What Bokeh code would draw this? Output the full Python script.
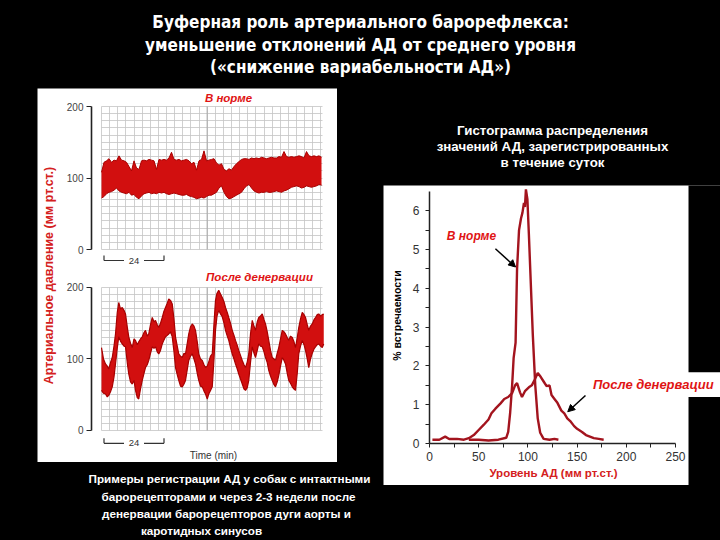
import math
from bokeh.plotting import figure
from bokeh.layouts import row, column
from bokeh.models import (Range1d, LinearAxis, FixedTicker, SingleIntervalTicker, Grid,
                          BoxAnnotation, Arrow, NormalHead)
from bokeh.core.properties import value
from bokeh.embed import file_html
from bokeh.resources import INLINE

SANS = "Liberation Sans, Arial, Helvetica, sans-serif"
NARROW = "Liberation Sans Narrow, Arial Narrow, DejaVu Sans Condensed, sans-serif"
BLACK_BG = {"background-color": "black"}

# ------------------------------------------------------------------ data
TITLE_LINES = ["Буферная роль артериального барорефлекса:",
               "уменьшение отклонений АД от среднего уровня",
               "(«снижение вариабельности АД»)"]
CAPTION_LINES = ["Примеры регистрации АД у собак с интактными",
                 "барорецепторами и через 2-3 недели после",
                 "денервации барорецепторов дуги аорты и",
                 "каротидных синусов"]
HIST_TITLE_LINES = ["Гистограмма распределения",
                    "значений АД, зарегистрированных",
                    "в течение суток"]
Y_LABEL_LEFT = "Артериальное давление (мм рт.ст.)"
LABEL_NORM = "В норме"
LABEL_DEN = "После денервации"
X_LABEL_HIST = "Уровень АД (мм рт.ст.)"
Y_LABEL_HIST = "% встречаемости"
TIME_LABEL = "Time (min)"
SCALE_BAR_MIN = 24

# normal recording: time (min), lower and upper envelope (mm Hg)
TOP_T = list(range(0, 89))
TOP_LO = [72, 74, 78, 80, 81, 83, 86, 82, 80, 79, 78, 80, 76, 77, 73, 71, 75, 78, 79, 80,
          78, 79, 78, 80, 79, 80, 78, 77, 78, 79, 78, 77, 76, 76, 77, 75, 74, 73, 71, 72,
          73, 72, 74, 76, 76, 78, 80, 86, 89, 80, 74, 71, 72, 74, 76, 78, 80, 85, 89, 91,
          86, 82, 80, 79, 80, 80, 81, 80, 80, 81, 82, 81, 80, 82, 83, 85, 87, 88, 89, 88,
          86, 87, 89, 88, 87, 88, 89, 91, 90]
TOP_HI = [108, 122, 124, 127, 122, 125, 124, 131, 125, 124, 122, 116, 110, 124, 114, 112, 124, 125, 124, 126,
          125, 124, 112, 126, 125, 126, 125, 128, 136, 126, 125, 126, 124, 125, 126, 124, 120, 122, 111, 124,
          126, 138, 124, 125, 126, 127, 121, 118, 120, 112, 110, 113, 111, 116, 120, 123, 126, 127, 127, 126,
          128, 127, 128, 127, 129, 128, 127, 128, 129, 128, 128, 130, 129, 137, 130, 129, 130, 129, 130, 131,
          130, 128, 137, 131, 130, 131, 130, 131, 129]

# after denervation: time (min), lower and upper envelope (mm Hg)
BOT_T = [0.0, 0.8, 1.6, 2.3, 2.9, 3.6, 4.3, 5.0, 5.6, 6.3, 6.9, 7.6, 8.3, 9.0, 9.6, 10.3, 10.9, 11.6,
         12.3, 13.0, 13.6, 14.3, 14.9, 15.6, 16.3, 17.0, 17.6, 18.3, 18.9, 19.6, 20.3, 21.0, 21.6,
         22.3, 22.9, 23.6, 24.3, 24.9, 25.6, 26.3, 26.9, 27.6, 28.3, 29.0, 29.6, 30.3, 30.9, 31.6,
         32.3, 33.0, 33.6, 34.3, 34.9, 35.6, 36.3, 37.0, 37.6, 38.3, 38.9, 39.6, 40.3, 41.0, 41.6,
         42.3, 42.9, 43.6, 44.3, 45.0, 45.6, 46.2, 46.9, 47.6, 48.3, 49.0, 49.6, 50.3, 50.9, 51.6,
         52.3, 53.0, 53.6, 54.3, 54.9, 55.6, 56.3, 57.0, 57.6, 58.3, 58.9, 59.6, 60.3, 61.0, 61.6,
         62.3, 62.9, 63.6, 64.3, 65.0, 65.6, 66.3, 66.9, 67.6, 68.3, 69.0, 69.6, 70.3, 70.9, 71.6,
         72.3, 73.0, 73.6, 74.3, 74.9, 75.6, 76.3, 77.0, 77.6, 78.3, 78.9, 79.6, 80.3, 81.0, 81.6,
         82.3, 82.9, 83.6, 84.3, 85.0, 85.6, 86.3, 86.9, 87.6, 88.3, 88.9]
BOT_LO = [56, 52, 51, 47, 49, 54, 61, 75, 93, 115, 131, 125, 121, 118, 117, 95, 79, 68,
          65, 70, 56, 46, 44, 58, 70, 80, 88, 92, 98, 108, 117, 115, 117,
          110, 107, 112, 121, 126, 131, 133, 135, 138, 131, 110, 88, 78, 70, 62,
          61, 65, 70, 85, 98, 104, 107, 100, 93, 80, 70, 62, 61, 55, 51,
          44, 51, 56, 61, 100, 140, 160, 168, 163, 159, 150, 140, 132, 126, 116,
          107, 100, 93, 86, 79, 72, 65, 58, 56, 60, 70, 95, 117, 108, 102,
          112, 121, 118, 117, 110, 102, 95, 84, 76, 70, 64, 61, 68, 77, 90,
          102, 98, 93, 80, 70, 66, 61, 58, 56, 80, 107, 118, 126, 120, 112,
          100, 88, 100, 108, 114, 117, 120, 121, 118, 116, 121]
BOT_HI = [116, 100, 93, 90, 86, 95, 102, 118, 135, 165, 179, 170, 172, 168, 163, 145, 131, 122,
          116, 128, 126, 120, 124, 128, 131, 137, 140, 132, 135, 148, 158, 152, 154,
          148, 144, 150, 158, 166, 172, 178, 184, 182, 177, 155, 131, 118, 107, 104,
          102, 108, 107, 122, 135, 145, 149, 146, 140, 124, 107, 100, 98, 92, 88,
          90, 96, 104, 107, 150, 182, 192, 196, 191, 186, 180, 172, 165, 158, 150,
          140, 133, 126, 119, 112, 105, 98, 92, 88, 96, 107, 135, 154, 146, 140,
          152, 158, 160, 163, 155, 149, 138, 126, 112, 102, 100, 98, 108, 116, 128,
          140, 138, 135, 130, 126, 132, 130, 124, 116, 130, 144, 156, 165, 162, 158,
          148, 140, 146, 149, 155, 158, 162, 163, 160, 162, 163]

# histogram of 24-h values (% of occurrence vs level, mm Hg)
NORM_X = [40, 50, 60, 70, 78, 80, 82, 84, 85.5, 87.5, 89, 91, 93, 94.5, 96, 97, 98, 99.5,
          101, 103, 105, 107.5, 110, 112.5, 116, 122, 127, 131]
NORM_Y = [0.1, 0.1, 0.08, 0.1, 0.15, 0.3, 0.8, 1.5, 2.2, 2.6, 4.5, 5.5, 5.8, 5.95, 6.2, 6.1, 6.55, 6.3,
          5.4, 4.1, 2.8, 1.5, 0.65, 0.28, 0.12, 0.1, 0.12, 0.1]
DEN_X = [3, 10, 16, 20, 28, 35, 40, 45, 50, 55, 60, 63, 67, 72, 76, 80, 84, 87, 89, 92, 94, 97,
         101, 104, 107, 110, 113, 116, 119, 122, 124, 127, 130, 134, 137, 140, 143, 147, 150,
         155, 159, 163, 167, 172, 177]
DEN_Y = [0.1, 0.1, 0.18, 0.12, 0.12, 0.1, 0.14, 0.22, 0.35, 0.48, 0.62, 0.78, 0.9, 1.03, 1.15, 1.2,
         1.3, 1.5, 1.56, 1.32, 1.2, 1.35, 1.45, 1.5, 1.65, 1.82, 1.72, 1.6, 1.48, 1.5, 1.25, 1.15,
         1.05, 0.85, 0.78, 0.65, 0.58, 0.45, 0.38, 0.3, 0.22, 0.18, 0.14, 0.12, 0.1]

X_TICKS_HIST = [0, 50, 100, 150, 200, 250]
Y_TICKS_HIST = [0, 1, 2, 3, 4, 5, 6]
Y_TICKS_TRACE = [0, 100, 200]

TRACE_RED = "#d20f0f"
TRACE_DARK = "#a80000"
LABEL_RED = "#e01414"
HIST_RED = "#a3141e"


def base(w, h, bg="black", xr=None, yr=None):
    p = figure(width=w, height=h, toolbar_location=None, output_backend="svg",
               x_axis_type=None, y_axis_type=None,
               x_range=xr if xr is not None else Range1d(0, w),
               y_range=yr if yr is not None else Range1d(h, 0),
               background_fill_color=bg, border_fill_color=bg, outline_line_color=None,
               min_border=0)
    p.min_border_left = p.min_border_right = p.min_border_top = p.min_border_bottom = 0
    return p


def txt(p, x, y, s, size, color, font=SANS, style="bold", align="center", angle=0.0, **kw):
    p.text(x=[x], y=[y], text=[s], text_font=value(font), text_font_size=size,
           text_font_style=style, text_color=color, text_align=align,
           text_baseline="middle", angle=angle, **kw)


# ------------------------------------------------------------------ title
title = base(720, 88)
for s, yy in zip(TITLE_LINES, [21, 44, 66]):
    txt(title, 360, yy, s, "17px", "white", font=NARROW)

# ------------------------------------------------------------------ left panel (two recordings)
lp = base(300, 374, bg="white", xr=Range1d(-25.6, 94.4), yr=Range1d(-297.9, 225.2))
lp.extra_y_ranges = {"bot": Range1d(-44.8, 478.3)}

for rn in ("default", "bot"):
    g1 = Grid(dimension=0, y_range_name=rn, ticker=SingleIntervalTicker(interval=3.25),
              bounds=(0, 88.5), cross_bounds=(0, 200),
              grid_line_color="#c4c4c4", grid_line_width=0.8)
    g2 = Grid(dimension=1, y_range_name=rn, ticker=SingleIntervalTicker(interval=10),
              bounds=(0, 200), cross_bounds=(0, 88.5),
              grid_line_color="#c4c4c4", grid_line_width=0.8)
    lp.add_layout(g1)
    lp.add_layout(g2)
    lp.segment(x0=[13 * 3.25], y0=[0], x1=[13 * 3.25], y1=[200], line_color="#a8a8a8",
               line_width=1, y_range_name=rn)
    ax = LinearAxis(y_range_name=rn, fixed_location=-4, bounds=(0, 200),
                    ticker=FixedTicker(ticks=Y_TICKS_TRACE),
                    axis_line_color="#222222", axis_line_width=1.6,
                    major_tick_line_color="#222222", major_tick_line_width=1.2,
                    major_tick_in=0, major_tick_out=5, minor_tick_out=0, minor_tick_in=0,
                    major_label_text_font=SANS, major_label_text_font_size="10px",
                    major_label_text_color="#444444", major_label_standoff=3)
    lp.add_layout(ax, "left")

lp.varea(x=TOP_T, y1=TOP_LO, y2=TOP_HI, fill_color=TRACE_RED)
lp.line(x=TOP_T, y=TOP_HI, line_color=TRACE_DARK, line_width=1)
lp.line(x=TOP_T, y=TOP_LO, line_color=TRACE_DARK, line_width=1)
lp.varea(x=BOT_T, y1=BOT_LO, y2=BOT_HI, fill_color=TRACE_RED, y_range_name="bot")
lp.line(x=BOT_T, y=BOT_HI, line_color=TRACE_DARK, line_width=1.2, y_range_name="bot")
lp.line(x=BOT_T, y=BOT_LO, line_color=TRACE_DARK, line_width=1.2, y_range_name="bot")

# 24-min scale bars
for rn, by in (("default", -15.4), ("bot", -18.0)):
    x0 = 1
    x1 = x0 + SCALE_BAR_MIN
    lp.segment(x0=[x0, x1, x0, x1 - 8], y0=[by, by, by, by], x1=[x0, x1, x0 + 8, x1],
               y1=[by + 7, by + 7, by, by], line_color="#333333", line_width=1.2,
               y_range_name=rn)
    lp.text(x=[x0 + SCALE_BAR_MIN / 2], y=[by], text=[str(SCALE_BAR_MIN)],
            text_font=value(SANS), text_font_size="9.5px", text_color="#333333",
            text_align="center", text_baseline="middle", y_range_name=rn)

txt(lp, 44.8, -35, TIME_LABEL, "10px", "#333333", style="normal", y_range_name="bot")
txt(lp, 50.8, 212.0, LABEL_NORM, "11.5px", LABEL_RED, style="bold italic")
txt(lp, 63.2, 214.0, LABEL_DEN, "11.5px", LABEL_RED, style="bold italic", y_range_name="bot")
txt(lp, -21.2, -36.4, Y_LABEL_LEFT, "12.5px", "#d42020", angle=math.pi / 2)

left_top = row(base(37, 374), lp, base(46, 374), spacing=0, styles=BLACK_BG)

# ------------------------------------------------------------------ caption
cap = base(383, 78)
for s, xx, yy in zip(CAPTION_LINES, [229, 228, 226, 201], [16, 34, 51, 68]):
    txt(cap, xx, yy, s, "11.7px", "white")

left_col = column(left_top, cap, spacing=0, styles=BLACK_BG)

# ------------------------------------------------------------------ histogram
htitle = base(337, 97)
for s, yy in zip(HIST_TITLE_LINES, [42, 58, 74]):
    txt(htitle, 169, yy, s, "13.3px", "white")

hp = base(337, 300, bg="white", xr=Range1d(-46.7, 295.7), yr=Range1d(-1.08, 6.65))
axis_style = dict(axis_line_color="#222222", axis_line_width=1.5,
                  major_tick_line_color="#222222", minor_tick_line_color="#222222",
                  major_tick_in=0, major_tick_out=4, minor_tick_in=0, minor_tick_out=4,
                  major_label_text_font=SANS, major_label_text_font_size="12px",
                  major_label_text_color="#333333")
xa = LinearAxis(fixed_location=0, bounds=(0, 250),
                ticker=FixedTicker(ticks=X_TICKS_HIST, minor_ticks=[25, 75, 125, 175, 225]),
                major_label_standoff=4, **axis_style)
ya = LinearAxis(fixed_location=0, bounds=(0, 6.5),
                ticker=FixedTicker(ticks=Y_TICKS_HIST,
                                   minor_ticks=[0.5, 1.5, 2.5, 3.5, 4.5, 5.5]),
                major_label_standoff=6, **axis_style)
hp.add_layout(xa, "below")
hp.add_layout(ya, "left")

hp.line(x=DEN_X, y=DEN_Y, line_color=HIST_RED, line_width=2.4)
hp.line(x=NORM_X, y=NORM_Y, line_color=HIST_RED, line_width=2.4)

hp.add_layout(Arrow(x_start=67, y_start=5.02, x_end=87.5, y_end=4.55, line_color="black",
                    line_width=1.5, end=NormalHead(size=7, fill_color="black", line_color="black")))
hp.add_layout(Arrow(x_start=158.5, y_start=1.24, x_end=140.5, y_end=0.82, line_color="black",
                    line_width=1.5, end=NormalHead(size=7, fill_color="black", line_color="black")))

# black surround right of the panel, leaving the label strip white
hp.add_layout(BoxAnnotation(left=263.2, right=400, bottom=1.84, top=10, fill_color="black",
                            fill_alpha=1, line_color=None))
hp.add_layout(BoxAnnotation(left=263.2, right=400, bottom=-5, top=1.20, fill_color="black",
                            fill_alpha=1, line_color=None))

txt(hp, 42.7, 5.36, LABEL_NORM, "12px", LABEL_RED, style="bold italic")
txt(hp, 227.5, 1.52, LABEL_DEN, "13px", LABEL_RED, style="bold italic")
txt(hp, 126.0, -0.77, X_LABEL_HIST, "11.5px", "#d42020")
txt(hp, -32.5, 3.3, Y_LABEL_HIST, "10.5px", "black", angle=math.pi / 2)

right_col = column(htitle, hp, base(337, 55), spacing=0, styles=BLACK_BG)

root = column(title, row(left_col, right_col, spacing=0, styles=BLACK_BG),
              spacing=0, styles=BLACK_BG)

open("out.html", "w").write(file_html(root, INLINE))
